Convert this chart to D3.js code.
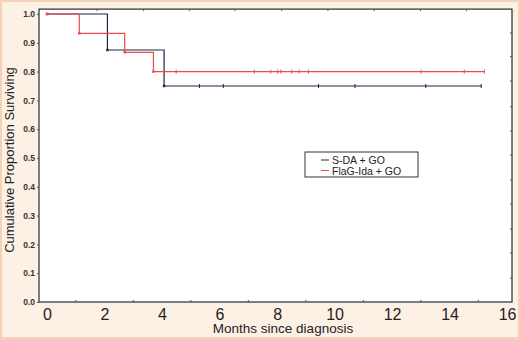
<!DOCTYPE html>
<html>
<head>
<meta charset="utf-8">
<script src="https://cdn.jsdelivr.net/npm/d3@7"></script>
<style>
  html, body { margin: 0; padding: 0; background: #fff; }
  svg { display: block; font-family: Arial, "Liberation Sans", sans-serif; }
</style>
</head>
<body>
<div id="chart"></div>
<script>
// Kaplan-Meier steps (months, proportion surviving)
const sdaTimes = [0, 2.1, 4.07];
const sdaSurv = [1.0, 0.875, 0.75];
const sdaEnd = 15.1;
const sdaCensor = [5.3, 6.13, 9.44, 10.71, 13.17, 15.1];

const flagTimes = [0, 1.12, 2.7, 3.7];
const flagSurv = [1.0, 0.933, 0.867, 0.8];
const flagEnd = 15.21;
const flagCensor = [4.49, 7.21, 7.78, 8.02, 8.13, 8.51, 8.77, 9.09, 13.01, 14.51, 15.21];

const xTickLabels = [0, 2, 4, 6, 8, 10, 12, 14, 16];
const xMinorTicks = [1, 3, 5, 7, 9, 11, 13, 15];
const yTickLabels = [0, 0.1, 0.2, 0.3, 0.4, 0.5, 0.6, 0.7, 0.8, 0.9, 1.0];
const topTicks = [1.74, 3.36, 4.95, 6.54, 8.16, 9.77, 11.38, 12.99, 14.59];
const rightTicks = [0.934, 0.852, 0.767, 0.678, 0.594, 0.51, 0.424, 0.34, 0.253, 0.17, 0.083];

const series = [
  { name: 'S-DA + GO', times: sdaTimes, surv: sdaSurv, end: sdaEnd, censor: sdaCensor, color: '#1e2540' },
  { name: 'FlaG-Ida + GO', times: flagTimes, surv: flagSurv, end: flagEnd, censor: flagCensor, color: '#ec4b4b' }
];

const W = 520, H = 339;
const svg = d3.select('#chart').append('svg')
  .attr('width', W).attr('height', H);

// page background
svg.append('rect')
  .attr('x', 1).attr('y', 1).attr('width', W - 2).attr('height', H - 2)
  .attr('fill', '#fdf1e6').attr('stroke', '#f3d2b8').attr('stroke-width', 2);

const x = d3.scaleLinear().domain([-0.28, 16.17]).range([39, 512]);
const y = d3.scaleLinear().domain([0, 1]).range([302, 14]);
const yTop = 1.017;

// plot frame
svg.append('rect')
  .attr('x', x(-0.28)).attr('y', y(yTop))
  .attr('width', x(16.17) - x(-0.28)).attr('height', y(0) - y(yTop))
  .attr('fill', '#fff').attr('stroke', '#2a2a2a').attr('stroke-width', 1.2);

// left axis
const yAxis = svg.append('g')
  .attr('transform', `translate(${x(-0.28)},0)`)
  .call(d3.axisLeft(y).tickValues(yTickLabels).tickFormat(d3.format('.1f')).tickSize(2).tickPadding(2));
yAxis.select('.domain').remove();
yAxis.selectAll('text').attr('font-size', 8.5).attr('font-weight', 'bold').attr('fill', '#333');
yAxis.selectAll('line').attr('stroke', '#555');

// bottom axis labels
const xAxis = svg.append('g')
  .attr('transform', `translate(0,${y(0)})`)
  .call(d3.axisBottom(x).tickValues(xTickLabels).tickFormat(d3.format('d')).tickSize(0).tickPadding(7));
xAxis.select('.domain').remove();
xAxis.selectAll('text').attr('font-size', 16).attr('fill', '#222');

// minor inward ticks
svg.append('g').selectAll('line').data(xMinorTicks).join('line')
  .attr('x1', d => x(d)).attr('x2', d => x(d))
  .attr('y1', y(0)).attr('y2', y(0) - 2)
  .attr('stroke', '#555');
svg.append('g').selectAll('line').data(topTicks).join('line')
  .attr('x1', d => x(d)).attr('x2', d => x(d))
  .attr('y1', y(yTop)).attr('y2', y(yTop) + 2)
  .attr('stroke', '#555');
svg.append('g').selectAll('line').data(rightTicks).join('line')
  .attr('x1', x(16.17)).attr('x2', x(16.17) - 2)
  .attr('y1', d => y(d)).attr('y2', d => y(d))
  .attr('stroke', '#555');

// axis titles
svg.append('text')
  .attr('x', 283).attr('y', 333)
  .attr('text-anchor', 'middle').attr('font-size', 13.5).attr('fill', '#222')
  .text('Months since diagnosis');
svg.append('text')
  .attr('transform', `translate(14,160) rotate(-90)`)
  .attr('text-anchor', 'middle').attr('font-size', 13).attr('fill', '#222')
  .text('Cumulative Proportion Surviving');

// step curves
series.forEach(s => {
  const pts = [];
  s.times.forEach((t, i) => {
    if (i > 0) pts.push([t, s.surv[i - 1]]);
    pts.push([t, s.surv[i]]);
  });
  pts.push([s.end, s.surv[s.surv.length - 1]]);

  svg.append('path')
    .datum(pts)
    .attr('fill', 'none')
    .attr('stroke', s.color)
    .attr('stroke-width', 1.2)
    .attr('d', d3.line().x(d => x(d[0])).y(d => y(d[1])));

  // event markers
  svg.append('g').selectAll('rect')
    .data(s.times.map((t, i) => [t, s.surv[i]]))
    .join('rect')
    .attr('x', d => x(d[0]) - 1.2).attr('y', d => y(d[1]) - 1.2)
    .attr('width', 2.4).attr('height', 2.4)
    .attr('fill', s.color);

  // censor ticks
  const last = s.surv[s.surv.length - 1];
  svg.append('g').selectAll('line')
    .data(s.censor)
    .join('line')
    .attr('x1', d => x(d)).attr('x2', d => x(d))
    .attr('y1', y(last) - 2).attr('y2', y(last) + 2)
    .attr('stroke', s.color).attr('stroke-width', 1);
});

// legend
const lg = svg.append('g').attr('transform', 'translate(305,152)');
lg.append('rect')
  .attr('width', 113).attr('height', 25)
  .attr('fill', '#fff').attr('stroke', '#333').attr('stroke-width', 1);
series.forEach((s, i) => {
  const ly = 8 + i * 10.5;
  lg.append('line')
    .attr('x1', 16).attr('x2', 24).attr('y1', ly).attr('y2', ly)
    .attr('stroke', s.color).attr('stroke-width', 1);
  lg.append('text')
    .attr('x', 27).attr('y', ly + 4)
    .attr('font-size', 10.5).attr('fill', '#222')
    .text(s.name);
});
</script>
</body>
</html>
